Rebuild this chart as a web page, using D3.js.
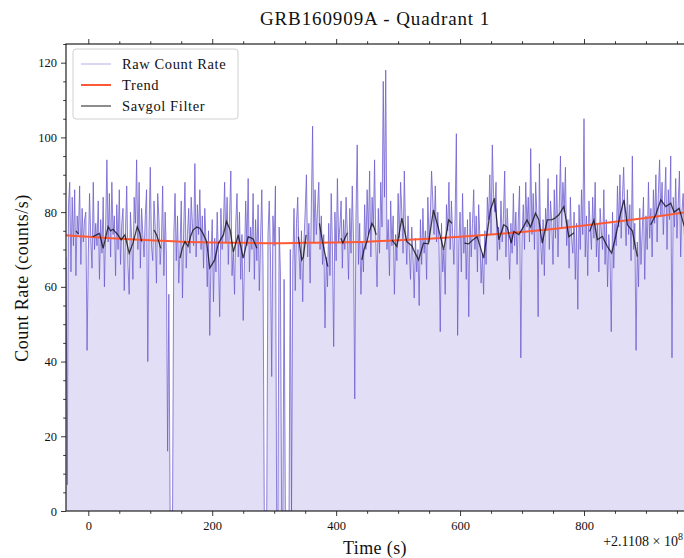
<!DOCTYPE html>
<html>
<head>
<meta charset="utf-8">
<script src="https://cdn.jsdelivr.net/npm/d3@7"></script>
<style>
  body { margin: 0; background: #fff; }
  svg text { font-family: "Liberation Serif", "DejaVu Serif", serif; fill: #111; }
</style>
</head>
<body>
<div id="chart"></div>
<script>
// time axis: first bin and bin width (s, relative to 2.1108e8)
var startTime = -36, binSize = 2;

// raw count rate, one value per 2 s bin (each row = 50 s)
var rawRate = [
  68, 7, 82, 88, 64, 84, 71, 86, 63, 79, 74, 87, 66, 81, 72, 78, 80, 43, 69, 85, 73, 65, 88, 70, 77,
  71, 83, 62, 78, 69, 84, 60, 76, 94, 72, 85, 68, 88, 74, 79, 63, 82, 70, 86, 66, 77, 81, 59, 75, 87,
  66, 58, 80, 73, 62, 84, 77, 94, 70, 88, 65, 81, 74, 68, 79, 86, 40, 75, 92, 71, 67, 83, 76, 61, 85,
  78, 66, 72, 87, 63, 80, 69, 16, 58, 0, 0, 0, 74, 85, 67, 79, 61, 70, 83, 57, 76, 88, 65, 74, 81,
  69, 84, 77, 71, 93, 68, 82, 74, 86, 70, 79, 65, 81, 72, 60, 75, 47, 68, 78, 56, 73, 64, 80, 69, 52,
  81, 70, 76, 88, 72, 84, 66, 79, 91, 63, 70, 58, 77, 85, 68, 80, 62, 74, 51, 67, 83, 71, 89, 64, 76,
  70, 85, 62, 78, 67, 82, 59, 73, 86, 65, 0, 0, 0, 74, 83, 68, 36, 79, 71, 87, 0, 0, 76, 64, 0,
  0, 62, 0, 0, 0, 0, 70, 0, 66, 81, 59, 77, 84, 69, 62, 75, 56, 72, 80, 90, 68, 77, 61, 82, 103,
  72, 86, 74, 81, 88, 70, 79, 66, 74, 49, 68, 60, 77, 63, 85, 71, 44, 80, 67, 89, 72, 76, 83, 65, 78,
  70, 84, 75, 62, 81, 69, 87, 73, 30, 79, 98, 66, 77, 58, 72, 64, 82, 70, 86, 74, 91, 68, 84, 76, 94,
  72, 60, 81, 69, 88, 76, 115, 84, 118, 70, 78, 63, 83, 71, 79, 58, 74, 67, 85, 73, 88, 80, 69, 91, 75,
  66, 79, 70, 62, 76, 68, 57, 73, 64, 70, 55, 78, 66, 81, 69, 75, 62, 84, 72, 79, 91, 83, 74, 87, 72,
  80, 71, 48, 77, 64, 70, 58, 82, 75, 88, 70, 83, 74, 66, 79, 101, 47, 72, 80, 64, 85, 69, 76, 62, 78,
  52, 80, 68, 77, 86, 70, 79, 64, 82, 73, 61, 69, 58, 75, 66, 84, 78, 90, 74, 98, 85, 80, 88, 67, 76,
  70, 83, 72, 79, 91, 68, 81, 74, 62, 77, 69, 85, 71, 80, 66, 78, 87, 41, 73, 82, 70, 88, 76, 84, 72,
  97, 74, 85, 70, 88, 79, 52, 93, 72, 66, 78, 63, 81, 75, 89, 70, 83, 77, 66, 86, 73, 90, 68, 81, 95,
  76, 88, 80, 92, 71, 78, 65, 84, 73, 69, 80, 62, 77, 54, 82, 70, 86, 74, 105, 68, 79, 63, 83, 76, 70,
  84, 73, 88, 68, 77, 64, 81, 75, 70, 86, 66, 78, 60, 74, 69, 48, 80, 65, 77, 71, 87, 76, 90, 73, 84,
  92, 79, 71, 86, 74, 82, 67, 95, 70, 77, 43, 72, 60, 81, 66, 75, 84, 62, 79, 70, 88, 73, 81, 68, 86,
  77, 90, 72, 85, 94, 79, 88, 74, 83, 92, 70, 86, 78, 95, 41, 84, 76, 89, 73, 82, 91, 68, 80, 85, 74
];

// trend (read every 50 s)
var trendTimes = [-36, 0, 50, 100, 150, 200, 250, 300, 350, 400, 450, 500, 550, 600, 650, 700, 750, 800, 850, 900, 962];
var trendValues = [73.8, 73.4, 72.9, 72.5, 72.1, 71.9, 71.8, 71.7, 71.8, 71.9, 72.1, 72.5, 72.9, 73.4, 74.0, 74.7, 75.5, 76.4, 77.4, 78.4, 79.9];

// savgol filter, drawn only in these pieces: [time, rate]
var savgolSegments = [
  [[-20, 75.0], [-18, 74.6], [-16, 74.2]],
  [[7, 73.4], [13, 73.9], [18, 74.3], [24, 70.3], [32, 76.1], [36, 75.0], [40, 75.4], [44, 74.6], [48, 73.9], [53, 72.6], [59, 73.9], [66, 69.0], [72, 71.7], [79, 76.1], [83, 74.5], [86, 72.1]],
  [[106, 75.2], [110, 74.0], [113, 72.5], [117, 70.3]],
  [[148, 67.7], [152, 70.5], [156, 72.1], [161, 70.8], [165, 73.5], [169, 75.2], [175, 76.0], [180, 75.7], [185, 74.3], [191, 72.1], [196, 65.0], [204, 67.2], [210, 71.7], [218, 73.9], [223, 77.5], [229, 75.2], [234, 69.4], [242, 73.9], [250, 67.7], [258, 73.4], [266, 72.8], [272, 70.3]],
  [[339, 73.4], [342, 70.0], [344.5, 67.2], [347, 68.0], [351.5, 73.9]],
  [[373, 77.0], [376, 74.0], [379.5, 70.8], [383, 68.0], [386.6, 65.4]],
  [[407.6, 73.0], [410.8, 71.7], [414, 73.0], [418.3, 74.5]],
  [[441.5, 67.2], [445, 70.0], [449.6, 72.1], [453, 74.5], [457.7, 77.0], [461, 76.0], [464.7, 73.9]],
  [[490, 72.6], [498, 70.8], [506, 78.4], [514, 72.1], [522, 71.0], [525, 69.9], [533, 67.2], [541, 71.7], [549, 71.5], [557, 80.6], [565, 75.7], [573.5, 69.9], [581.6, 77.9], [587, 77.0]],
  [[607, 71.7], [614, 71.5], [620, 72.5], [627.5, 73.4], [633, 70.5], [638, 67.7], [643.6, 74.3], [649, 80.6], [655.5, 83.7], [662.5, 72.6], [670.5, 76.6], [676, 76.0], [682.5, 71.7], [686.7, 74.8], [694.8, 74.0], [702, 76.0], [708, 77.9], [713.7, 76.0], [721.7, 79.7], [727, 78.0], [732.6, 71.7], [740.7, 77.9], [748.7, 78.0], [754, 78.5], [759.5, 79.3], [767.5, 81.5], [775.6, 73.4], [783.7, 74.5]],
  [[809, 74.8], [816, 77.9], [821.5, 72.6], [829.6, 73.5], [837.7, 70.8], [844.6, 69.0], [851, 73.4], [859, 79.7], [864.5, 83.3], [870, 76.6], [878, 75.0], [886, 68.1]],
  [[907.7, 76.6], [915.8, 79.3], [923.9, 83.3], [932, 81.5], [940, 82.4], [945.4, 80.0], [953.5, 81.0], [962, 76.1]]
];

var xTicks = [0, 200, 400, 600, 800];
var yTicks = [0, 20, 40, 60, 80, 100, 120];
var legendLabels = ["Raw Count Rate", "Trend", "Savgol Filter"];

var margin = { top: 44, right: -1, bottom: 47, left: 66 },
  width = 684 - margin.left - margin.right,
  height = 558 - margin.top - margin.bottom;

var x = d3.scaleLinear().domain([-36, 963]).range([0, width]);
var y = d3.scaleLinear().domain([0, 125]).range([height, 0]);

var svgRoot = d3.select("#chart").append("svg")
  .attr("width", 684)
  .attr("height", 558);

var svg = svgRoot.append("g")
  .attr("transform", "translate(" + margin.left + "," + margin.top + ")");

svg.append("clipPath").attr("id", "plotClip")
  .append("rect").attr("width", width).attr("height", height);

var plot = svg.append("g").attr("clip-path", "url(#plotClip)");

var raw = rawRate.map(function (v, i) { return { t: startTime + i * binSize, v: v }; });

// filled area under raw rate
plot.append("path")
  .datum(raw)
  .attr("fill", "slateblue")
  .attr("fill-opacity", 0.2)
  .attr("d", d3.area()
    .x(function (d) { return x(d.t); })
    .y0(y(0))
    .y1(function (d) { return y(d.v); }));

plot.append("path")
  .datum(raw)
  .attr("fill", "none")
  .attr("stroke", "slateblue")
  .attr("stroke-opacity", 0.75)
  .attr("stroke-width", 1)
  .attr("d", d3.line()
    .x(function (d) { return x(d.t); })
    .y(function (d) { return y(d.v); }));

// trend
var trend = trendTimes.map(function (t, i) { return [t, trendValues[i]]; });
plot.append("path")
  .datum(trend)
  .attr("fill", "none")
  .attr("stroke", "#ff5a36")
  .attr("stroke-width", 2)
  .attr("d", d3.line().curve(d3.curveMonotoneX)
    .x(function (d) { return x(d[0]); })
    .y(function (d) { return y(d[1]); }));

// savgol pieces
var savLine = d3.line()
  .x(function (d) { return x(d[0]); })
  .y(function (d) { return y(d[1]); });

plot.selectAll(".sav")
  .data(savgolSegments)
  .enter().append("path")
  .attr("class", "sav")
  .attr("fill", "none")
  .attr("stroke", "#000")
  .attr("stroke-opacity", 0.72)
  .attr("stroke-width", 1.3)
  .attr("d", savLine);

// axes
function styleAxis(g) {
  g.select(".domain").remove();
  g.selectAll(".tick line").attr("stroke", "#222").attr("stroke-width", 0.9);
  g.selectAll(".tick text").style("font-size", "12.5px").attr("fill", "#111");
}

var xMinor = d3.range(-0, 1000, 50).filter(function (v) { return xTicks.indexOf(v) < 0; });
var yMinor = d3.range(0, 126, 5).filter(function (v) { return yTicks.indexOf(v) < 0; });

svg.append("g").attr("transform", "translate(0," + height + ")")
  .call(d3.axisBottom(x).tickValues(xTicks).tickSize(5).tickPadding(5))
  .call(styleAxis);
svg.append("g").attr("transform", "translate(0," + height + ")")
  .call(d3.axisBottom(x).tickValues(xMinor).tickSize(2.8).tickFormat(""))
  .call(styleAxis);
svg.append("g")
  .call(d3.axisTop(x).tickValues(xTicks).tickSize(5).tickFormat(""))
  .call(styleAxis);
svg.append("g")
  .call(d3.axisTop(x).tickValues(xMinor).tickSize(2.8).tickFormat(""))
  .call(styleAxis);
svg.append("g")
  .call(d3.axisLeft(y).tickValues(yTicks).tickSize(5).tickPadding(4))
  .call(styleAxis);
svg.append("g")
  .call(d3.axisLeft(y).tickValues(yMinor).tickSize(2.8).tickFormat(""))
  .call(styleAxis);

// frame
svg.append("rect")
  .attr("width", width).attr("height", height)
  .attr("fill", "none")
  .attr("stroke", "#222")
  .attr("stroke-width", 1.2);

// legend
var legend = svg.append("g").attr("transform", "translate(7,5)");
legend.append("rect")
  .attr("width", 165).attr("height", 70).attr("rx", 3)
  .attr("fill", "#fff").attr("fill-opacity", 0.85)
  .attr("stroke", "#d0d0d0").attr("stroke-width", 1);

var legendStyles = [
  { stroke: "slateblue", opacity: 0.5, w: 1 },
  { stroke: "#ff5a36", opacity: 1, w: 2 },
  { stroke: "#000", opacity: 0.6, w: 1.5 }
];
legendLabels.forEach(function (label, i) {
  var ly = 15 + i * 21;
  legend.append("line")
    .attr("x1", 8).attr("x2", 38).attr("y1", ly).attr("y2", ly)
    .attr("stroke", legendStyles[i].stroke)
    .attr("stroke-opacity", legendStyles[i].opacity)
    .attr("stroke-width", legendStyles[i].w);
  legend.append("text")
    .attr("x", 49).attr("y", ly).attr("dy", "0.35em")
    .style("font-size", "14.5px").style("letter-spacing", "0.6px")
    .text(label);
});

// titles
svgRoot.append("text")
  .attr("x", 375).attr("y", 25)
  .attr("text-anchor", "middle")
  .style("font-size", "19px").style("letter-spacing", "0.9px")
  .text("GRB160909A - Quadrant 1");

svgRoot.append("text")
  .attr("x", 375).attr("y", 554)
  .attr("text-anchor", "middle")
  .style("font-size", "18px").style("letter-spacing", "0.4px")
  .text("Time (s)");

svgRoot.append("text")
  .attr("transform", "translate(28,278) rotate(-90)")
  .attr("text-anchor", "middle")
  .style("font-size", "18px").style("letter-spacing", "0.5px")
  .text("Count Rate (counts/s)");

// offset text of x axis
var off = svgRoot.append("text")
  .attr("x", 683).attr("y", 546)
  .attr("text-anchor", "end")
  .style("font-size", "14px");
off.append("tspan").text("+2.1108 \u00d7 10");
off.append("tspan").attr("dy", -6).style("font-size", "10px").text("8");
</script>
</body>
</html>
